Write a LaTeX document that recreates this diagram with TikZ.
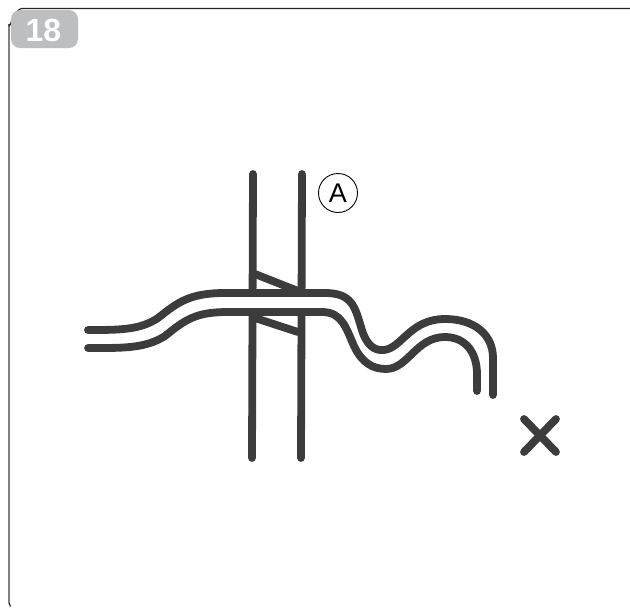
\documentclass[tikz,border=0pt]{standalone}
\usepackage{fontspec}
\setmainfont{Liberation Sans}
\definecolor{ink}{HTML}{3C3C3C}
\definecolor{tabgray}{HTML}{BCBEC0}
\begin{document}
\begin{tikzpicture}[x=1pt, y=-1pt,
    frameline/.style={draw=black!85, line width=1.2pt},
    sideline/.style={draw=black!50, line width=1.6pt},
    strand/.style={draw=ink, line width=7.8pt, line cap=round, line join=round},
    gapband/.style={draw=white, line width=11pt},
    tabbox/.style={fill=tabgray, rounded corners=9pt},
    tabnum/.style={text=white, font=\bfseries\fontsize{32}{32}\selectfont, inner sep=0pt},
    callout/.style={circle, draw=black, line width=0.9pt, minimum size=39pt, inner sep=0pt, font=\fontsize{27}{27}\selectfont}]

    \useasboundingbox (0,0) rectangle (630,608);

    % frame and tab
    \draw [sideline] (9,24) -- (9,603);
    \draw [frameline] (630,8.5) -- (22,8.5) to[out=180, in=-90] (9,24);
    \draw [frameline] (9,603) -- (10.5,606.5);
    \fill [tabbox] (11,10) rectangle (78,48);
    \node [tabnum] (tab) at (43.5,30) {18};

    % posts
    \draw [strand] (253,174) -- (252,458);
    \draw [strand] (302,174) -- (301,458);
    \node [callout] (mark) at (338,193) {A};

    % wedges
    \draw [strand] (255,274) -- (298,291);
    \draw [strand] (255,318) -- (298,332);
    \draw [gapband] (240,302.5) -- (315,302.5);

    % upper strand
    \draw [strand] (88,330) .. controls (120,330) and (140,330) .. (158,318)
        .. controls (178,302) and (190,293) .. (225,293)
        -- (325,293) .. controls (352,293) and (355,307) .. (361,327)
        .. controls (366,345) and (374,351) .. (384,350)
        .. controls (402,348) and (410,319) .. (445,319)
        .. controls (475,319) and (493,335) .. (493,358)
        -- (493,395);

    % lower strand
    \draw [strand] (88,348) .. controls (120,348) and (145,349) .. (165,336)
        .. controls (185,320) and (195,312) .. (228,312)
        -- (322,312) .. controls (342,312) and (346,328) .. (354,346)
        .. controls (362,363) and (373,369) .. (386,369)
        .. controls (408,369) and (416,337) .. (445,337)
        .. controls (465,337) and (477,352) .. (477,374)
        -- (477,391);

    % cross
    \draw [strand] (524,419) -- (556,452);
    \draw [strand] (556,419) -- (524,452);
\end{tikzpicture}
\end{document}
